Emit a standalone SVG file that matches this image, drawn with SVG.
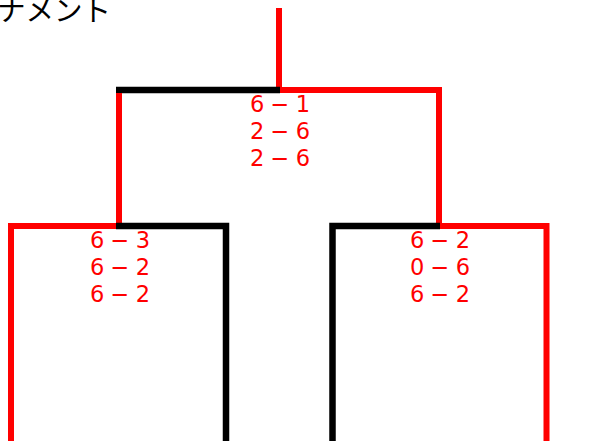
<svg xmlns="http://www.w3.org/2000/svg" width="596" height="441" viewBox="0 0 596 441">
<style>
.r{stroke:#ff0000;stroke-width:6;fill:none}
.k{stroke:#000000;stroke-width:6.5;fill:none}
.s{font-family:"DejaVu Sans","Noto Sans",sans-serif;font-size:22.5px;fill:#ff0000;text-anchor:middle}
.t{font-family:"Noto Sans CJK JP","Noto Sans",sans-serif;font-size:28.5px;fill:#000000}
</style>
<rect width="596" height="441" fill="#ffffff"/>
<g id="title"><text class="t" x="-3" y="21">ナメント</text></g>
<g id="connectors">
<path class="r" d="M279 8 V87"/>
<path class="k" d="M116 90 H280"/>
<path class="r" d="M280 90 H439 V223"/>
<path class="r" d="M119 93 V223"/>
<path class="r" d="M11 441 V226 H116"/>
<path class="k" d="M116 226 H226 V441"/>
<path class="k" d="M332.5 441 V226 H440"/>
<path class="r" d="M440 226 H546.5 V441"/>
</g>
<g id="match-final">
<text class="s" x="280" y="112" textLength="60" lengthAdjust="spacing">6 − 1</text>
<text class="s" x="280" y="139" textLength="60" lengthAdjust="spacing">2 − 6</text>
<text class="s" x="280" y="166" textLength="60" lengthAdjust="spacing">2 − 6</text>
</g>
<g id="match-semi-left">
<text class="s" x="120" y="248" textLength="60" lengthAdjust="spacing">6 − 3</text>
<text class="s" x="120" y="275" textLength="60" lengthAdjust="spacing">6 − 2</text>
<text class="s" x="120" y="302" textLength="60" lengthAdjust="spacing">6 − 2</text>
</g>
<g id="match-semi-right">
<text class="s" x="440" y="248" textLength="60" lengthAdjust="spacing">6 − 2</text>
<text class="s" x="440" y="275" textLength="60" lengthAdjust="spacing">0 − 6</text>
<text class="s" x="440" y="302" textLength="60" lengthAdjust="spacing">6 − 2</text>
</g>
</svg>
